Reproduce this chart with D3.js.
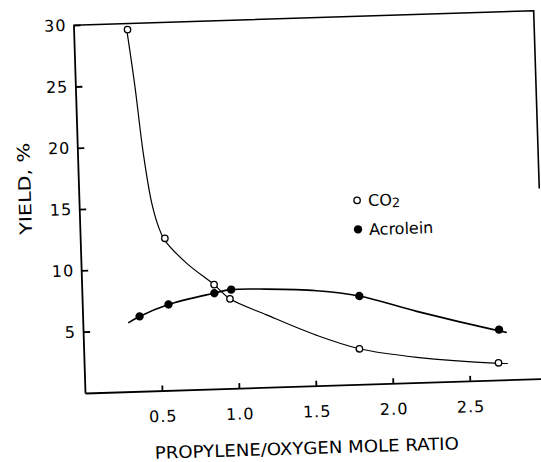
<!DOCTYPE html>
<html>
<head>
<meta charset="utf-8">
<script src="https://cdn.jsdelivr.net/npm/d3@7"></script>
<style>
  body { margin: 0; background: #fff; }
  text { font-family: "DejaVu Sans", sans-serif; fill: #000; }
</style>
</head>
<body>
<script>
var co2Ratio = [0.35, 0.55, 0.86, 0.96, 1.79, 2.69];
var co2Yield = [29.5, 12.4, 8.5, 7.3, 2.9, 1.4];
var acroleinRatio = [0.37, 0.56, 0.86, 0.97, 1.80, 2.70];
var acroleinYield = [6.1, 7.0, 7.8, 8.05, 7.2, 4.1];

//hand drawn fit lines
var co2CurveRatio = [0.345, 0.387, 0.427, 0.472, 0.51, 0.546, 0.687, 0.86, 0.96, 1.195, 1.516, 1.79, 2.16, 2.69, 2.75];
var co2CurveYield = [29.5, 24.8, 19.4, 15.3, 13.4, 12.3, 10.3, 8.5, 7.3, 5.9, 4.1, 2.9, 2.06, 1.36, 1.32];
var acroleinCurveRatio = [0.295, 0.366, 0.555, 0.856, 0.967, 1.2, 1.525, 1.8, 2.17, 2.7, 2.75];
var acroleinCurveYield = [5.6, 6.08, 6.98, 7.8, 8.05, 8.0, 7.74, 7.2, 5.8, 4.0, 3.85];

//ticks
var xTicks = [0.5, 1.0, 1.5, 2.0, 2.5];
var yTicks = [5, 10, 15, 20, 25, 30];

window.onload = setChart;

function setChart() {
    var width = 541,
        height = 462;

    var svg = d3.select("body")
        .append("svg")
        .attr("width", width)
        .attr("height", height);

    //the scan is a little tilted, so the whole plot is turned
    var g = svg.append("g")
        .attr("transform", "rotate(-1.8, 85, 393)");

    var x = d3.scaleLinear().domain([0, 3]).range([85, 547]);
    var y = d3.scaleLinear().domain([0, 30]).range([393, 25]);

    //frame top and right side
    g.append("path")
        .attr("d", d3.line()([[x(0), y(30)], [x(2.99), y(30)], [x(2.99), y(15.5)]]))
        .attr("fill", "none")
        .attr("stroke", "#000")
        .attr("stroke-width", 1.6);

    //axes
    var yAxis = g.append("g")
        .attr("transform", "translate(" + x(0) + ",0)")
        .call(d3.axisLeft(y).tickValues(yTicks).tickFormat(d3.format("d"))
            .tickSizeInner(-7).tickSizeOuter(0).tickPadding(7));

    var xAxis = g.append("g")
        .attr("transform", "translate(0," + y(0) + ")")
        .call(d3.axisBottom(x).tickValues(xTicks).tickFormat(d3.format(".1f"))
            .tickSizeInner(-5).tickSizeOuter(0).tickPadding(20));

    [yAxis, xAxis].forEach(function(a) {
        a.selectAll("path, line").attr("stroke", "#000").attr("stroke-width", 1.8);
        a.selectAll("text")
            .style("font-family", "DejaVu Sans, sans-serif")
            .attr("font-size", 16)
            .attr("letter-spacing", 1);
    });

    //axis titles
    g.append("text")
        .attr("x", 305)
        .attr("y", 461)
        .attr("text-anchor", "middle")
        .attr("font-size", 17)
        .attr("textLength", 304)
        .attr("lengthAdjust", "spacingAndGlyphs")
        .text("PROPYLENE/OXYGEN MOLE RATIO");

    g.append("text")
        .attr("transform", "translate(37,187) rotate(-90)")
        .attr("text-anchor", "middle")
        .attr("font-size", 17)
        .attr("textLength", 92)
        .attr("lengthAdjust", "spacingAndGlyphs")
        .text("YIELD, %");

    //fit lines
    var line = d3.line()
        .x(function(d) { return x(d[0]); })
        .y(function(d) { return y(d[1]); })
        .curve(d3.curveCatmullRom.alpha(0.5));

    var co2Curve = d3.zip(co2CurveRatio, co2CurveYield),
        acroleinCurve = d3.zip(acroleinCurveRatio, acroleinCurveYield);

    g.selectAll(".fit")
        .data([co2Curve, acroleinCurve])
        .enter()
        .append("path")
        .attr("class", "fit")
        .attr("d", line)
        .attr("fill", "none")
        .attr("stroke", "#000")
        .attr("stroke-width", function(d, i) { return i == 0 ? 1.2 : 1.6; });

    //points
    g.selectAll(".acrolein")
        .data(d3.zip(acroleinRatio, acroleinYield))
        .enter()
        .append("circle")
        .attr("class", "acrolein")
        .attr("cx", function(d) { return x(d[0]); })
        .attr("cy", function(d) { return y(d[1]); })
        .attr("r", 4.2)
        .attr("fill", "#000");

    g.selectAll(".co2")
        .data(d3.zip(co2Ratio, co2Yield))
        .enter()
        .append("circle")
        .attr("class", "co2")
        .attr("cx", function(d) { return x(d[0]); })
        .attr("cy", function(d) { return y(d[1]); })
        .attr("r", 3.2)
        .attr("fill", "#fff")
        .attr("stroke", "#000")
        .attr("stroke-width", 1.3);

    //legend
    var legend = g.append("g").attr("transform", "translate(363,209)");

    legend.append("circle")
        .attr("r", 3.2)
        .attr("fill", "#fff")
        .attr("stroke", "#000")
        .attr("stroke-width", 1.3);

    var co2Label = legend.append("text")
        .attr("x", 11)
        .attr("y", 6)
        .attr("font-size", 16);
    co2Label.append("tspan").text("CO");
    co2Label.append("tspan").attr("dy", 2).attr("font-size", 13).text("2");

    legend.append("circle")
        .attr("cy", 29)
        .attr("r", 4.2)
        .attr("fill", "#000");

    legend.append("text")
        .attr("x", 11)
        .attr("y", 35)
        .attr("font-size", 16)
        .text("Acrolein");
}
</script>
</body>
</html>
